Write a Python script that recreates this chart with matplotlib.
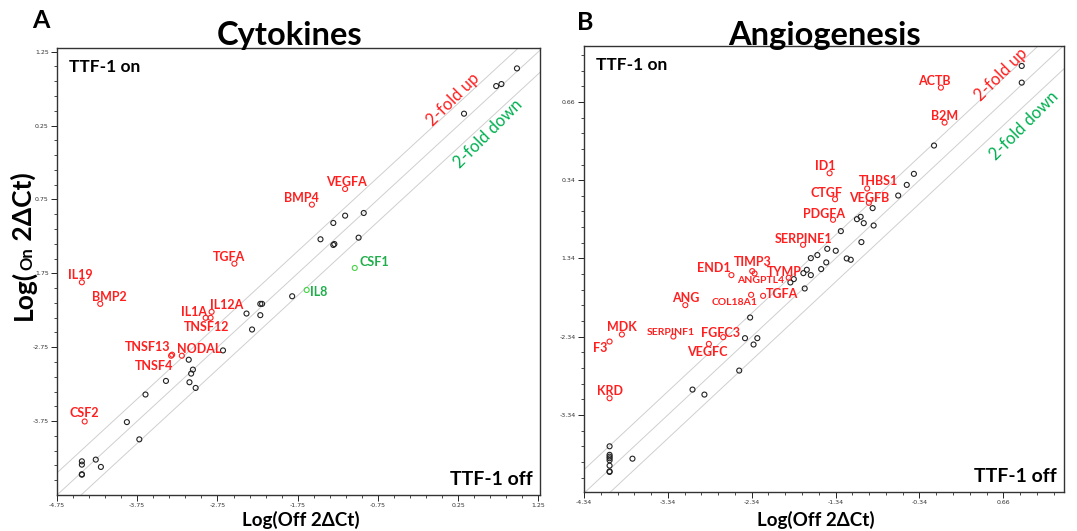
import numpy as np
import matplotlib
matplotlib.use("Agg")
import matplotlib.pyplot as plt

plt.rcParams['font.family'] = ['Lato', 'DejaVu Sans']

# ---- data: Cytokines panel ----
cyto_bg_x = [0.983, 0.789, 0.724, 0.323, -1.159, -0.927, -1.306, -1.466, -1.306, -1.293,
             -0.991, -1.819, -2.216, -2.194, -2.388, -2.216, -2.319, -2.681, -3.108, -3.056,
             -3.078, -3.392, -3.099, -3.022, -3.647, -3.879, -3.724, -4.440, -4.440, -4.267,
             -4.203, -4.440, -4.440]
cyto_bg_y = [1.024, 0.812, 0.785, 0.411, -0.969, -0.933, -1.068, -1.289, -1.366, -1.353,
             -1.267, -2.060, -2.163, -2.163, -2.294, -2.316, -2.510, -2.793, -2.919, -3.053,
             -3.107, -3.206, -3.224, -3.301, -3.390, -3.763, -3.997, -4.294, -4.339, -4.271,
             -4.370, -4.469, -4.475]
cyto_genes = ['VEGFA', 'BMP4', 'TGFA', 'IL19', 'BMP2', 'IL12A', 'IL1A', 'TNSF12',
              'TNSF13', 'TNSF4', 'NODAL', 'CSF2', 'CSF1', 'IL8']
cyto_gene_x = [-1.159, -1.573, -2.539, -4.440, -4.211, -2.823, -2.897, -2.836,
               -3.315, -3.328, -3.194, -4.405, -1.039, -1.638]
cyto_gene_y = [-0.608, -0.820, -1.619, -1.871, -2.163, -2.271, -2.352, -2.352,
               -2.851, -2.865, -2.865, -3.755, -1.677, -1.975]
cyto_gene_dir = ['up'] * 12 + ['down', 'down']
cyto_xticks = [-4.75, -3.75, -2.75, -1.75, -0.75, 0.25, 1.25]
cyto_xlabels = ['-4.75', '-3.75', '-2.75', '-1.75', '-0.75', '0.25', '1.25']
cyto_yticks = [1.25, 0.25, -0.75, -1.75, -2.75, -3.75]
cyto_ylabels = ['1.25', '0.25', '0.75', '1.75', '-2.75', '-3.75']

# ---- data: Angiogenesis panel ----
angio_bg_x = [0.880, 0.880, -0.166, -0.406, -0.491, -0.593, -0.898, -1.085, -1.041, -1.004,
              -0.886, -1.277, -1.032, -1.439, -1.338, -1.557, -1.635, -1.207, -1.159, -1.451,
              -1.512, -1.683, -1.724, -1.635, -1.838, -1.879, -1.708, -2.359, -2.420, -2.273,
              -2.318, -2.489, -3.046, -2.904, -4.035, -4.035, -4.035, -4.035, -4.035, -4.035,
              -4.035, -4.035, -3.762]
angio_bg_y = [1.120, 0.907, 0.103, -0.259, -0.400, -0.536, -0.697, -0.838, -0.808, -0.889,
              -0.919, -0.991, -1.131, -1.217, -1.242, -1.297, -1.336, -1.340, -1.357, -1.391,
              -1.476, -1.485, -1.528, -1.553, -1.604, -1.647, -1.724, -2.095, -2.359, -2.359,
              -2.440, -2.773, -3.016, -3.080, -3.741, -3.850, -3.873, -3.894, -3.920, -3.988,
              -4.061, -4.069, -3.899]
angio_genes = ['ACTB', 'B2M', 'ID1', 'THBS1', 'CTGF', 'VEGFB', 'PDGFA', 'SERPINE1',
               'END1', 'TIMP3', 'ANGPTL4', 'TYMP', 'COL18A1', 'TGFA', 'ANG', 'MDK',
               'SERPINF1', 'FGFC3', 'F3', 'VEGFC', 'KRD']
angio_gene_x = [-0.084, -0.040, -1.411, -0.963, -1.346, -0.943, -1.370, -1.728,
                -2.582, -2.334, -2.306, -1.899, -2.347, -2.204, -3.132, -3.888,
                -3.274, -2.680, -4.035, -2.851, -4.035]
angio_gene_y = [0.843, 0.396, -0.251, -0.446, -0.583, -0.629, -0.846, -1.166,
                -1.553, -1.502, -1.532, -1.587, -1.805, -1.818, -1.937, -2.312,
                -2.338, -2.346, -2.402, -2.432, -3.127]
angio_gene_dir = ['up'] * 21
angio_xticks = [-4.34, -3.34, -2.34, -1.34, -0.34, 0.66]
angio_xlabels = ['-4.34', '-3.34', '-2.34', '-1.34', '-0.34', '0.66']
angio_yticks = [0.66, -0.34, -1.34, -2.34, -3.34]
angio_ylabels = ['0.66', '0.34', '1.34', '-2.34', '-3.34']

fold_offset = 0.30  # log10(2)

# ---- label layout (pixel offsets from the point) ----
big, small = 9, 7.5
label_pos = {
    'VEGFA': (1, 3, 'center', 'baseline', big), 'BMP4': (-10, 3, 'center', 'baseline', big),
    'TGFA': (-5, 3, 'center', 'baseline', big), 'IL19': (-2, 3, 'center', 'baseline', big),
    'BMP2': (9, 3, 'center', 'baseline', big), 'IL12A': (15, 3, 'center', 'baseline', big),
    'IL1A': (1, 2, 'right', 'baseline', big), 'TNSF12': (-4, -3, 'center', 'top', big),
    'TNSF13': (-2, 4, 'right', 'baseline', big), 'TNSF4': (2, -4, 'right', 'top', big),
    'NODAL': (-5, 3, 'left', 'baseline', big), 'CSF2': (0, 4, 'center', 'baseline', big),
    'CSF1': (5, 2, 'left', 'baseline', big), 'IL8': (3, -2, 'left', 'center', big),
}
label_pos_b = {
    'ACTB': (-7, 3, 'center', 'baseline', big), 'B2M': (0, 3, 'center', 'baseline', big),
    'ID1': (-4, 3, 'center', 'baseline', big), 'THBS1': (11, 3, 'center', 'baseline', big),
    'CTGF': (-9, 2, 'center', 'baseline', big), 'VEGFB': (0, 1, 'center', 'baseline', big),
    'PDGFA': (-9, 2, 'center', 'baseline', big), 'SERPINE1': (1, 2, 'center', 'baseline', big),
    'END1': (-1, 3, 'right', 'baseline', big), 'TIMP3': (1, 5, 'center', 'baseline', big),
    'ANGPTL4': (-18, -3, 'left', 'top', small), 'TYMP': (-4, 2, 'center', 'baseline', big),
    'COL18A1': (-17, -3, 'center', 'top', small), 'TGFA': (3, 2, 'left', 'center', big),
    'ANG': (0, 3, 'center', 'baseline', big), 'MDK': (0, 3, 'center', 'baseline', big),
    'SERPINF1': (-3, 2, 'center', 'baseline', small), 'FGFC3': (-3, 0, 'center', 'baseline', big),
    'F3': (-2, 0, 'right', 'top', big), 'VEGFC': (-2, -2, 'center', 'top', big),
    'KRD': (0, 3, 'center', 'baseline', big),
}

RED = '#ff1f1f'
GREEN_TXT = '#1fae4a'
GREEN_PT = '#44d444'
W, H = 1077, 531

fig = plt.figure(figsize=(W / 100, H / 100), dpi=100)
ax1 = fig.add_axes([57 / W, 1 - 495 / H, 483 / W, 447 / H])
ax2 = fig.add_axes([584 / W, 1 - 492 / H, 480 / W, 446 / H])


def panel(ax, bx, by, genes, gx, gy, gdir, layout, xt, xl, yt, yl, xlim, ylim):
    lo, hi = -6, 3
    for off in (fold_offset, 0, -fold_offset):
        ax.plot([lo, hi], [lo + off, hi + off], color='#cfcfcf', lw=0.7, zorder=1)
    ax.scatter(bx, by, s=13, facecolors='none', edgecolors='#222222', linewidths=0.8, zorder=3)
    for g, x, y, d in zip(genes, gx, gy, gdir):
        pc = RED if d == 'up' else GREEN_PT
        tc = RED if d == 'up' else GREEN_TXT
        ax.scatter([x], [y], s=13, facecolors='none', edgecolors=pc, linewidths=0.8, zorder=3)
        dx, dy, ha, va, fs = layout[g]
        ax.annotate(g, (x, y), xytext=(dx, dy), textcoords='offset pixels', ha=ha, va=va,
                    fontsize=fs, fontweight='bold', color=tc, zorder=4)
    ax.set_xlim(*xlim)
    ax.set_ylim(*ylim)
    ax.set_xticks(xt)
    ax.set_xticklabels(xl)
    ax.set_yticks(yt)
    ax.set_yticklabels(yl)
    ax.set_xticks(np.arange(xt[0], xlim[1], 0.2), minor=True)
    ax.set_yticks(np.arange(yt[-1] - 0.8, ylim[1], 0.2), minor=True)
    ax.tick_params(which='major', direction='out', length=4, width=0.6, labelsize=4.5,
                   labelcolor='#333333', pad=2)
    ax.tick_params(which='minor', direction='out', length=2.5, width=0.5)
    for lab in ax.get_xticklabels() + ax.get_yticklabels():
        lab.set_family('DejaVu Sans')
    for s in ax.spines.values():
        s.set_linewidth(1.0)
        s.set_color('#333333')


panel(ax1, cyto_bg_x, cyto_bg_y, cyto_genes, cyto_gene_x, cyto_gene_y, cyto_gene_dir,
      label_pos, cyto_xticks, cyto_xlabels, cyto_yticks, cyto_ylabels,
      (-4.75, 1.27), (-4.75, 1.30))
panel(ax2, angio_bg_x, angio_bg_y, angio_genes, angio_gene_x, angio_gene_y, angio_gene_dir,
      label_pos_b, angio_xticks, angio_xlabels, angio_yticks, angio_ylabels,
      (-4.34, 1.384), (-4.325, 1.375))

# in-panel annotations
for ax, up, down in ((ax1, (0.820, 0.884), (0.892, 0.808)), (ax2, (0.869, 0.937), (0.917, 0.821))):
    ax.text(*up, '2-fold up', transform=ax.transAxes, rotation=45, ha='center', va='center',
            fontsize=12, color=RED, rotation_mode='anchor')
    ax.text(*down, '2-fold down', transform=ax.transAxes, rotation=45, ha='center', va='center',
            fontsize=12, color='#00b050', rotation_mode='anchor')
    ax.text(0.025, 0.975, 'TTF-1 on', transform=ax.transAxes, ha='left', va='top',
            fontsize=12.5, fontweight='bold')
    ax.text(0.985, 0.015, 'TTF-1 off', transform=ax.transAxes, ha='right', va='bottom',
            fontsize=14, fontweight='bold')

# titles and panel letters
fig.text(290 / W, 1 - 45 / H, 'Cytokines', ha='center', va='baseline', fontsize=23.5, fontweight='bold')
fig.text(825 / W, 1 - 45 / H, 'Angiogenesis', ha='center', va='baseline', fontsize=23.5, fontweight='bold')
fig.text(32 / W, 1 - 28 / H, 'A', ha='left', va='baseline', fontsize=18, fontweight='bold')
fig.text(577 / W, 1 - 30 / H, 'B', ha='left', va='baseline', fontsize=18, fontweight='bold')

# axis labels
fig.text(301 / W, 1 - 526 / H, 'Log(Off 2ΔCt)', ha='center', va='baseline', fontsize=13.5, fontweight='bold')
fig.text(816 / W, 1 - 526 / H, 'Log(Off 2ΔCt)', ha='center', va='baseline', fontsize=13.5, fontweight='bold')

renderer = fig.canvas.get_renderer()
ypos = 1 - 320 / H
for piece, fs in (('Log(', 19), ('On', 12), (' 2ΔCt)', 19)):
    t = fig.text(32 / W, ypos, piece, rotation=90, rotation_mode='anchor', ha='left',
                 va='baseline', fontsize=fs, fontweight='bold')
    ypos += t.get_window_extent(renderer).height / H

fig.savefig('out.png', dpi=100)
